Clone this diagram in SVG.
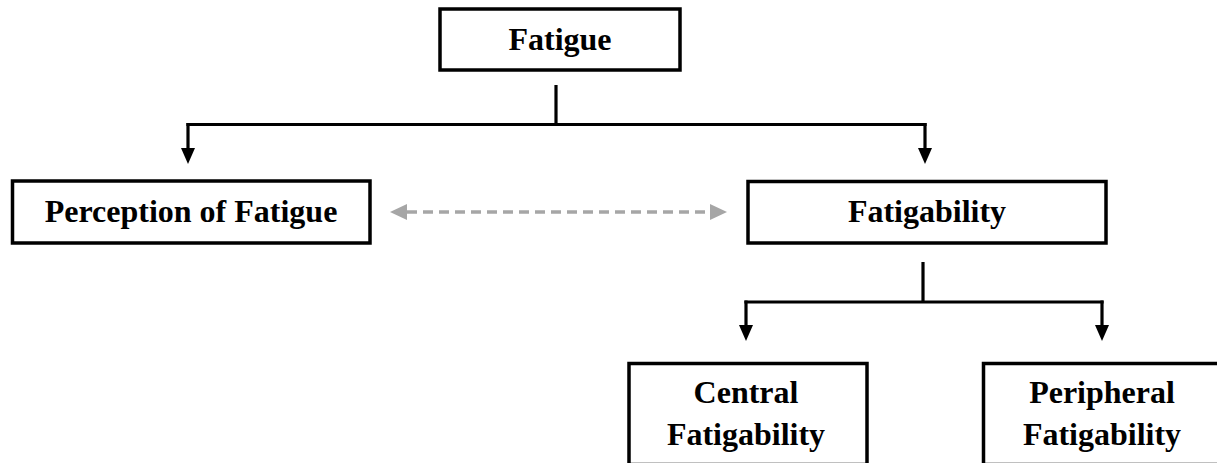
<svg xmlns="http://www.w3.org/2000/svg" width="1217" height="463" viewBox="0 0 1217 463">
<style>
.box{fill:#fff;stroke:#000;stroke-width:3.5}
.lbl{font-family:"Liberation Serif","Times New Roman",serif;font-weight:bold;font-size:32px;text-anchor:middle;fill:#000}
.con{fill:none;stroke:#000;stroke-width:3.2}
.dash{fill:none;stroke:#a6a6a6;stroke-width:3.5;stroke-dasharray:10 6}
</style>
<defs>
<marker id="ah" viewBox="0 -7.5 17 15" markerWidth="17" markerHeight="15" refX="0" refY="0" markerUnits="userSpaceOnUse" orient="auto">
<path d="M0,-7 L16,0 L0,7 z" fill="#000"/>
</marker>
<marker id="ag" viewBox="0 -8 17 16" markerWidth="17" markerHeight="16" refX="0" refY="0" markerUnits="userSpaceOnUse" orient="auto-start-reverse">
<path d="M0,-8 L17,0 L0,8 z" fill="#a6a6a6"/>
</marker>
</defs>
<g id="connectors">
<path class="con" d="M556,85 V124.5"/>
<path class="con" d="M186.4,124.5 H926.6"/>
<path class="con" d="M188,123 V148" marker-end="url(#ah)"/>
<path class="con" d="M925,123 V148" marker-end="url(#ah)"/>
<path class="con" d="M923,262 V302"/>
<path class="con" d="M744.4,302 H1103.6"/>
<path class="con" d="M746,300.5 V325" marker-end="url(#ah)"/>
<path class="con" d="M1102,300.5 V325" marker-end="url(#ah)"/>
<path class="dash" d="M407,212 H710" marker-start="url(#ag)" marker-end="url(#ag)"/>
</g>
<g id="fatigue">
<rect class="box" x="440" y="9" width="240" height="61"/>
<text class="lbl" x="560" y="50">Fatigue</text>
</g>
<g id="perception">
<rect class="box" x="12.5" y="181" width="357.5" height="62"/>
<text class="lbl" x="191" y="222">Perception of Fatigue</text>
</g>
<g id="fatigability">
<rect class="box" x="748" y="181.5" width="358" height="61.5"/>
<text class="lbl" x="927" y="222">Fatigability</text>
</g>
<g id="central">
<rect class="box" x="629" y="363.5" width="238" height="101"/>
<text class="lbl" x="746" y="403">Central</text>
<text class="lbl" x="746" y="445">Fatigability</text>
</g>
<g id="peripheral">
<rect class="box" x="983.5" y="363.5" width="250" height="101"/>
<text class="lbl" x="1102" y="403">Peripheral</text>
<text class="lbl" x="1102" y="445">Fatigability</text>
</g>
</svg>
